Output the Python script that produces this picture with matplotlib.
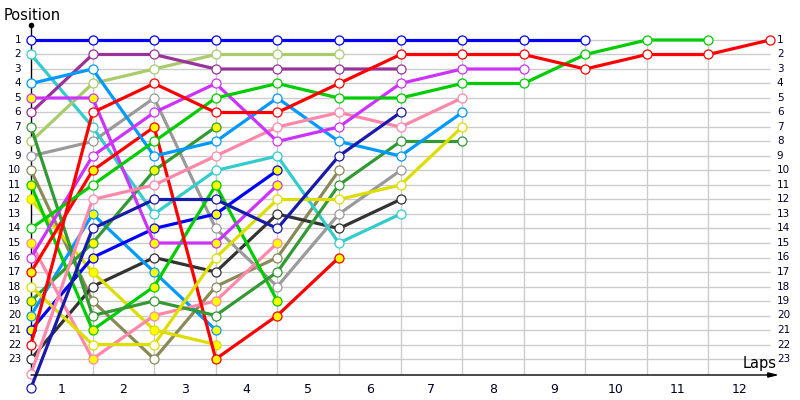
import matplotlib.pyplot as plt

# lap numbers shown under the columns, positions on both sides
lap_labels = [1, 2, 3, 4, 5, 6, 7, 8, 9, 10, 11, 12]
position_labels = list(range(1, 24))

# position of every car at the end of each lap (index 0 = grid)
blue = [1, 1, 1, 1, 1, 1, 1, 1, 1, 1]
red = [22, 6, 4, 6, 6, 4, 2, 2, 2, 3, 2, 2, 1]
green = [14, 11, 8, 5, 4, 5, 5, 4, 4, 2, 1, 1]
violet = [16, 9, 6, 4, 8, 7, 4, 3, 3]
pink = [24, 12, 11, 9, 7, 6, 7, 5]
dodger = [4, 3, 9, 8, 5, 8, 9, 6]
yellow = [18, 22, 22, 16, 12, 12, 11, 7]
fgreen = [7, 20, 19, 20, 17, 11, 8, 8]
purple = [6, 2, 2, 3, 3, 3, 3]
navy = [25, 14, 12, 12, 14, 9, 6]
gray = [9, 8, 5, 14, 18, 13, 10]
dgray = [23, 18, 16, 17, 13, 14, 12]
cyan = [2, 7, 13, 10, 9, 15, 13]
lolive = [8, 4, 3, 2, 2, 2]
olive = [10, 19, 23, 18, 16, 10]
red_b = [17, 10, 7, 23, 20, 16]
violet_b = [5, 5, 15, 15, 11]
green_b = [11, 21, 18, 11, 19]
pink_b = [15, 23, 20, 19, 15]
blue_b = [21, 16, 14, 13, 10]
fgreen_b = [19, 15, 10, 7]
dodger_b = [20, 13, 17, 21]
yellow_b = [12, 17, 21, 22]

cars = [
    (olive, '#8a8a58', False), (dgray, '#333333', False), (gray, '#9a9a9a', False),
    (cyan, '#33cccc', False), (lolive, '#a8cc6a', False), (purple, '#993399', False),
    (yellow_b, '#dddd00', True), (dodger_b, '#0099ff', True), (fgreen_b, '#339933', True),
    (blue_b, '#0000ff', True), (pink_b, '#ff88aa', True), (green_b, '#00cc00', True),
    (violet_b, '#cc33ff', True), (red_b, '#ff0000', True),
    (fgreen, '#339933', False), (yellow, '#dddd00', False), (dodger, '#0099ff', False),
    (pink, '#ff88aa', False), (violet, '#cc33ff', False), (navy, '#1a1aaa', False),
    (green, '#00cc00', False), (red, '#ff0000', False), (blue, '#0000ff', False),
]

px_lap = 739 / 12
px_pos = 14.5

fig = plt.figure(figsize=(8, 4), dpi=100)
ax = fig.add_axes([31 / 800, 25 / 400, (790 - 31) / 800, (375 - 25) / 400])
x_max = (790 - 31) / px_lap
y_top = 1 - (40 - 25) / px_pos
y_bot = 1 + (375 - 40) / px_pos
ax.set_xlim(0, x_max)
ax.set_ylim(y_bot, y_top)
ax.axis('off')

# grid
ax.hlines(position_labels, 0, 12, color='#cccccc', lw=1, zorder=0)
ax.vlines(range(1, 12), 1, y_bot, color='#cccccc', lw=1, zorder=0)

# axes with arrows
ax.plot([0, 0], [y_bot, y_top], color='black', lw=1, zorder=1, clip_on=False)
ax.plot([0], [y_top], marker='o', ms=3, color='black', clip_on=False)
x_end = (779 - 31) / px_lap
ax.annotate('', xy=(x_end, y_bot), xytext=(0, y_bot), annotation_clip=False,
            arrowprops=dict(arrowstyle='-|>,head_length=0.6,head_width=0.15',
                            color='black', lw=1, shrinkA=0, shrinkB=0))

for pos, color, filled in cars:
    ax.plot(range(len(pos)), pos, color=color, lw=2.3, marker='o', ms=6.5,
            mfc='#ffff00' if filled else 'white', mec=color, mew=0.9,
            clip_on=False, zorder=2)

for p in position_labels:
    ax.text(-0.16, p, str(p), ha='right', va='center', fontsize=7.5, color='#000022')
    ax.text(12.11, p, str(p), ha='left', va='center', fontsize=7.5, color='#000022')
for i, lab in enumerate(lap_labels):
    ax.text(i + 0.5, 25.1, str(lab), ha='center', va='center', fontsize=9, color='#000022')

fig.text(4 / 800, 1 - 20 / 400, 'Position', fontsize=10.5, va='baseline')
fig.text(743 / 800, 1 - 368 / 400, 'Laps', fontsize=10.5, va='baseline')

fig.savefig('out.png', dpi=100)
